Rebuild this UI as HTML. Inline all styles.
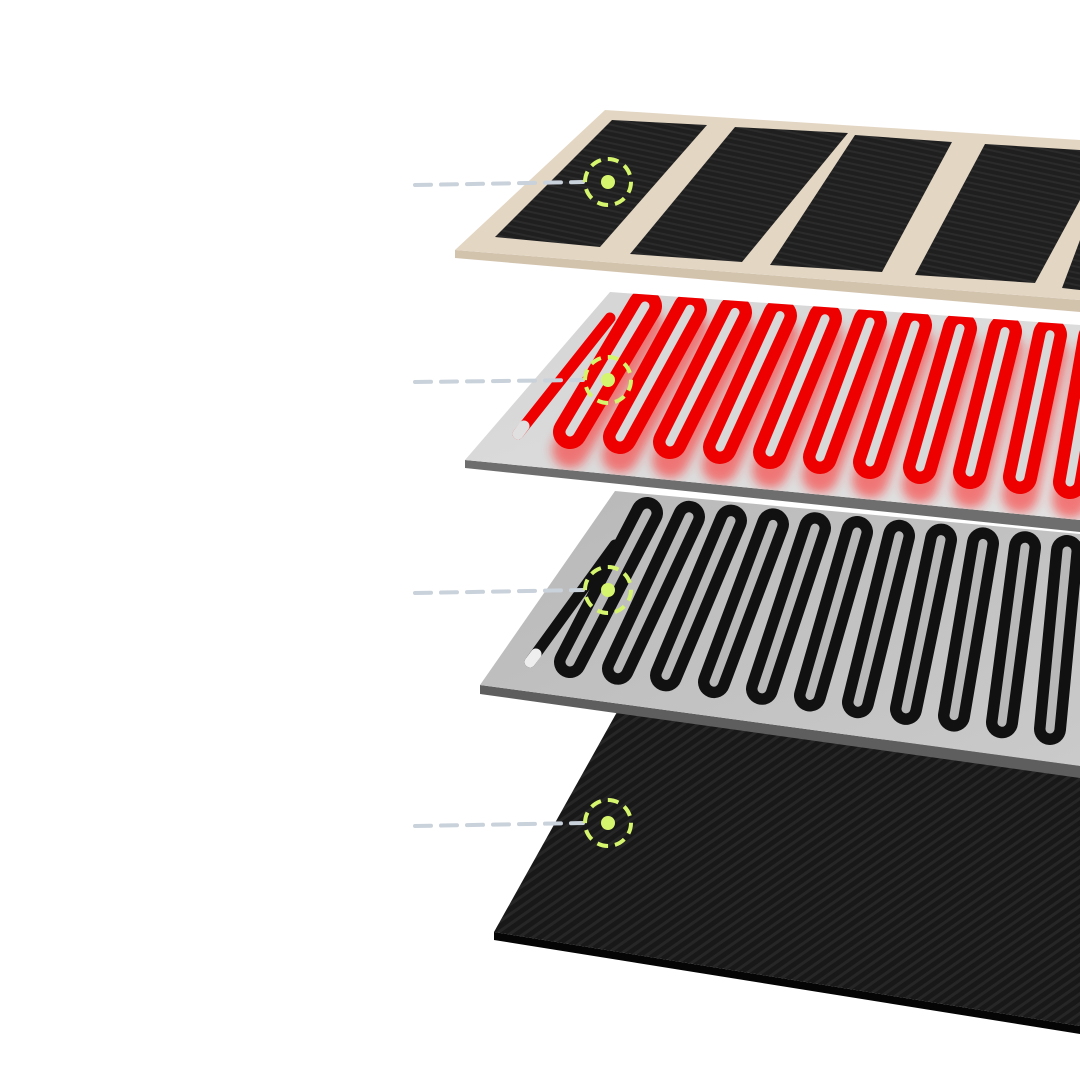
<!DOCTYPE html>
<html><head><meta charset="utf-8"><style>html,body{margin:0;padding:0;background:#fff}svg{display:block}</style></head>
<body>
<svg width="1080" height="1080" viewBox="0 0 1080 1080" xmlns="http://www.w3.org/2000/svg">
<defs>
<pattern id="stripe" width="8" height="8" patternUnits="userSpaceOnUse" patternTransform="rotate(-35)">
<rect width="8" height="8" fill="#181818"/><rect width="8" height="3" fill="#262626"/></pattern>
<pattern id="stripe2" width="6" height="6" patternUnits="userSpaceOnUse" patternTransform="rotate(12)">
<rect width="6" height="6" fill="#1f1f1f"/><rect width="6" height="2" fill="#2b2b2b"/></pattern>
<linearGradient id="silver" x1="0" y1="0" x2="1" y2="1"><stop offset="0" stop-color="#d4d4d4"/><stop offset="1" stop-color="#e2e2e2"/></linearGradient>
<linearGradient id="gray" x1="0" y1="0" x2="1" y2="1"><stop offset="0" stop-color="#b8b8b8"/><stop offset="1" stop-color="#cacaca"/></linearGradient>
<filter id="blur"><feGaussianBlur stdDeviation="5"/></filter>
<clipPath id="c2"><polygon points="610,292 1080,325 1080,520 465,460"/></clipPath>
<clipPath id="c3"><polygon points="615,491 1080,534 1080,766 480,685"/></clipPath>
</defs>

<polygon points="617,712 1080,760 1080,1026 494,932" fill="url(#stripe)"/>
<polygon points="494,932 1080,1026 1080,1034 494,940" fill="#050505"/>

<polygon points="480,685 1080,766 1080,778 480,694" fill="#5e5e5e"/>
<polygon points="615,491 1080,534 1080,766 480,685" fill="url(#gray)"/>
<g clip-path="url(#c3)" stroke-linecap="round"><g id="blk"></g></g>

<polygon points="465,460 1080,520 1080,532 465,468" fill="#6e6e6e"/>
<polygon points="610,292 1080,325 1080,520 465,460" fill="url(#silver)"/>
<g clip-path="url(#c2)" stroke-linecap="round">
<g id="glow" filter="url(#blur)" opacity="0.55"></g>
<g id="red"></g>
</g>

<polygon points="455,250 1080,300 1080,312 455,258" fill="#d2c3ad"/>
<polygon points="605,110 1080,140 1080,300 455,250" fill="#e3d6c3"/>
<g fill="url(#stripe2)">
<polygon points="612,120 707,125 600,247 495,237"/>
<polygon points="735,127 848,133 742,262 630,254"/>
<polygon points="855,135 952,142 882,272 770,265"/>
<polygon points="985,144 1080,150 1080,200 1035,283 915,275"/>
<polygon points="1080,240 1080,290 1062,288"/>
</g>

<g stroke="#c9d1db" stroke-width="4" stroke-dasharray="16 10" stroke-linecap="round" fill="none">
<line x1="415" y1="185" x2="583" y2="182"/>
<line x1="415" y1="382" x2="583" y2="380"/>
<line x1="415" y1="593" x2="583" y2="590"/>
<line x1="415" y1="826" x2="583" y2="823"/>
</g>
<g stroke="#d6f56e" stroke-width="4" stroke-dasharray="11 7" fill="none">
<circle cx="608" cy="182" r="23"/><circle cx="608" cy="380" r="23"/>
<circle cx="608" cy="590" r="23"/><circle cx="608" cy="823" r="23"/>
</g>
<g fill="#d6f56e">
<circle cx="608" cy="182" r="7"/><circle cx="608" cy="380" r="7"/>
<circle cx="608" cy="590" r="7"/><circle cx="608" cy="823" r="7"/>
</g>
</svg>
<script>
(function(){
var NS="http://www.w3.org/2000/svg";
function ln(g,x1,y1,x2,y2,c,w){var l=document.createElementNS(NS,"line");l.setAttribute("x1",x1);l.setAttribute("y1",y1);l.setAttribute("x2",x2);l.setAttribute("y2",y2);l.setAttribute("stroke",c);l.setAttribute("stroke-width",w);g.appendChild(l);}
var red=document.getElementById("red"),glow=document.getElementById("glow"),blk=document.getElementById("blk");
ln(red,518,434,610,318,"#ee0000",11);
ln(red,518,434,524,426,"#e0e0e0",11);
for(var k=0;k<12;k++){
 var tx=645+45*k,ty=306+3.2*k,bx=570+50*k,by=432+5*k;
 ln(glow,bx,by+18,tx,ty+18,"#ff2020",36);
 ln(red,bx,by,tx,ty,"#ee0000",34);
 ln(red,bx,by,tx,ty,"#d8d8d8",9);
}
ln(blk,530,662,615,545,"#111",11);
ln(blk,530,662,536,654,"#eee",11);
for(var k=0;k<13;k++){
 var tx=647+42*k,ty=513+3.8*k,bx=570+48*k,by=662+6.7*k;
 ln(blk,bx,by,tx,ty,"#111",32);
 ln(blk,bx,by,tx,ty,"#b8b8b8",9);
}
})();
</script>
</body></html>
